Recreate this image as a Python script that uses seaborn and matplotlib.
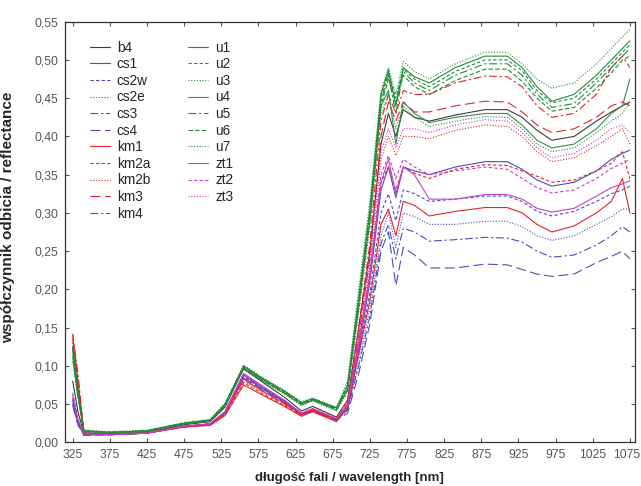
import matplotlib
matplotlib.use("Agg")
import matplotlib.pyplot as plt
import matplotlib.transforms as mtrans
from matplotlib.ticker import FuncFormatter
import seaborn as sns

wavelength = [325, 332, 340, 375, 425, 475, 510, 530, 555, 580, 610, 633, 648, 680,
              695, 710, 725, 740, 750, 760, 770, 785, 805, 840, 880, 910, 930, 950,
              970, 1000, 1030, 1050, 1065, 1075]

b4 = [0.080, 0.040, 0.012, 0.011, 0.013, 0.023, 0.027, 0.046, 0.096, 0.079, 0.059, 0.041, 0.047, 0.033,
      0.055, 0.150, 0.250, 0.390, 0.430, 0.400, 0.435, 0.425, 0.420, 0.428, 0.435, 0.435, 0.425, 0.408,
      0.395, 0.400, 0.420, 0.432, 0.440, 0.445]
cs1 = [0.055, 0.026, 0.010, 0.010, 0.012, 0.021, 0.024, 0.040, 0.088, 0.072, 0.054, 0.038, 0.043, 0.030,
       0.045, 0.120, 0.210, 0.330, 0.360, 0.320, 0.360, 0.355, 0.350, 0.360, 0.367, 0.367, 0.357, 0.343,
       0.335, 0.340, 0.355, 0.370, 0.378, 0.382]
cs2w = [0.050, 0.024, 0.010, 0.010, 0.012, 0.021, 0.024, 0.039, 0.086, 0.070, 0.053, 0.037, 0.042, 0.030,
        0.045, 0.115, 0.195, 0.300, 0.325, 0.290, 0.330, 0.325, 0.315, 0.318, 0.322, 0.322, 0.315, 0.302,
        0.296, 0.302, 0.315, 0.325, 0.330, 0.335]
cs2e = [0.052, 0.025, 0.010, 0.010, 0.012, 0.021, 0.024, 0.039, 0.085, 0.070, 0.052, 0.036, 0.041, 0.029,
        0.042, 0.105, 0.175, 0.270, 0.300, 0.255, 0.300, 0.295, 0.285, 0.285, 0.289, 0.289, 0.282, 0.270,
        0.264, 0.270, 0.285, 0.295, 0.305, 0.305]
cs3 = [0.058, 0.027, 0.010, 0.010, 0.012, 0.021, 0.024, 0.040, 0.087, 0.071, 0.053, 0.037, 0.042, 0.030,
       0.042, 0.100, 0.165, 0.260, 0.285, 0.240, 0.280, 0.275, 0.263, 0.265, 0.268, 0.267, 0.262, 0.250,
       0.242, 0.245, 0.258, 0.270, 0.282, 0.275]
cs4 = [0.048, 0.023, 0.009, 0.010, 0.012, 0.020, 0.023, 0.038, 0.084, 0.069, 0.052, 0.036, 0.041, 0.029,
       0.038, 0.090, 0.155, 0.250, 0.275, 0.205, 0.255, 0.245, 0.228, 0.228, 0.233, 0.232, 0.226, 0.220,
       0.217, 0.220, 0.235, 0.243, 0.250, 0.240]
km1 = [0.135, 0.080, 0.012, 0.010, 0.012, 0.020, 0.022, 0.035, 0.075, 0.062, 0.047, 0.034, 0.040, 0.027,
       0.045, 0.115, 0.185, 0.285, 0.305, 0.270, 0.315, 0.310, 0.296, 0.302, 0.307, 0.307, 0.300, 0.285,
       0.275, 0.283, 0.300, 0.315, 0.345, 0.300]
km2a = [0.140, 0.085, 0.012, 0.010, 0.012, 0.020, 0.023, 0.036, 0.078, 0.064, 0.048, 0.035, 0.041, 0.028,
        0.050, 0.130, 0.220, 0.340, 0.360, 0.330, 0.360, 0.352, 0.345, 0.357, 0.363, 0.362, 0.355, 0.348,
        0.340, 0.343, 0.355, 0.365, 0.380, 0.345]
km2b = [0.130, 0.075, 0.012, 0.010, 0.012, 0.021, 0.023, 0.037, 0.080, 0.066, 0.050, 0.036, 0.042, 0.028,
        0.050, 0.130, 0.230, 0.370, 0.400, 0.375, 0.400, 0.400, 0.397, 0.408, 0.415, 0.413, 0.400, 0.380,
        0.367, 0.372, 0.388, 0.400, 0.410, 0.390]
km3 = [0.125, 0.070, 0.012, 0.010, 0.012, 0.021, 0.023, 0.038, 0.082, 0.067, 0.050, 0.036, 0.042, 0.029,
       0.050, 0.140, 0.240, 0.400, 0.445, 0.420, 0.445, 0.432, 0.432, 0.440, 0.446, 0.445, 0.432, 0.415,
       0.405, 0.410, 0.425, 0.440, 0.445, 0.440]
km4 = [0.142, 0.090, 0.013, 0.011, 0.013, 0.021, 0.024, 0.038, 0.083, 0.068, 0.051, 0.037, 0.043, 0.029,
       0.055, 0.150, 0.260, 0.420, 0.455, 0.430, 0.460, 0.455, 0.455, 0.470, 0.479, 0.478, 0.465, 0.440,
       0.425, 0.430, 0.455, 0.490, 0.505, 0.490]
u1 = [0.125, 0.068, 0.015, 0.013, 0.015, 0.025, 0.029, 0.050, 0.100, 0.084, 0.067, 0.052, 0.057, 0.045,
      0.075, 0.190, 0.305, 0.455, 0.487, 0.440, 0.490, 0.478, 0.470, 0.490, 0.505, 0.505, 0.490, 0.465,
      0.446, 0.455, 0.480, 0.500, 0.515, 0.525]
u2 = [0.120, 0.065, 0.015, 0.013, 0.015, 0.025, 0.029, 0.050, 0.099, 0.083, 0.066, 0.051, 0.056, 0.044,
      0.070, 0.180, 0.295, 0.450, 0.483, 0.450, 0.488, 0.475, 0.465, 0.485, 0.500, 0.500, 0.486, 0.460,
      0.444, 0.450, 0.475, 0.495, 0.510, 0.520]
u3 = [0.130, 0.072, 0.016, 0.014, 0.016, 0.026, 0.030, 0.051, 0.101, 0.085, 0.068, 0.053, 0.058, 0.046,
      0.080, 0.200, 0.315, 0.460, 0.490, 0.455, 0.498, 0.485, 0.475, 0.495, 0.510, 0.510, 0.495, 0.475,
      0.463, 0.470, 0.495, 0.515, 0.530, 0.540]
u4 = [0.110, 0.060, 0.014, 0.012, 0.014, 0.024, 0.028, 0.048, 0.097, 0.081, 0.064, 0.049, 0.055, 0.042,
      0.070, 0.180, 0.290, 0.440, 0.460, 0.390, 0.445, 0.430, 0.418, 0.425, 0.430, 0.430, 0.415, 0.395,
      0.385, 0.390, 0.410, 0.430, 0.440, 0.475]
u5 = [0.125, 0.066, 0.015, 0.013, 0.015, 0.025, 0.029, 0.049, 0.099, 0.083, 0.066, 0.051, 0.057, 0.044,
      0.072, 0.185, 0.300, 0.445, 0.480, 0.430, 0.485, 0.470, 0.460, 0.480, 0.495, 0.495, 0.480, 0.455,
      0.438, 0.443, 0.470, 0.490, 0.505, 0.515]
u6 = [0.115, 0.062, 0.015, 0.013, 0.015, 0.025, 0.029, 0.049, 0.098, 0.082, 0.065, 0.050, 0.056, 0.043,
      0.068, 0.175, 0.290, 0.440, 0.475, 0.445, 0.480, 0.465, 0.455, 0.473, 0.488, 0.488, 0.472, 0.450,
      0.433, 0.438, 0.463, 0.483, 0.500, 0.505]
u7 = [0.105, 0.058, 0.014, 0.012, 0.014, 0.024, 0.028, 0.048, 0.096, 0.080, 0.063, 0.048, 0.054, 0.041,
      0.065, 0.170, 0.280, 0.430, 0.455, 0.410, 0.440, 0.425, 0.413, 0.420, 0.426, 0.425, 0.410, 0.390,
      0.380, 0.385, 0.405, 0.420, 0.430, 0.445]
zt1 = [0.060, 0.029, 0.011, 0.010, 0.012, 0.021, 0.024, 0.040, 0.090, 0.074, 0.055, 0.038, 0.044, 0.031,
       0.048, 0.125, 0.215, 0.340, 0.370, 0.325, 0.360, 0.350, 0.318, 0.318, 0.324, 0.324, 0.318, 0.306,
       0.301, 0.306, 0.322, 0.333, 0.338, 0.342]
zt2 = [0.065, 0.031, 0.011, 0.010, 0.012, 0.021, 0.024, 0.040, 0.089, 0.073, 0.055, 0.038, 0.044, 0.031,
       0.050, 0.130, 0.220, 0.350, 0.375, 0.345, 0.370, 0.360, 0.350, 0.355, 0.360, 0.357, 0.345, 0.333,
       0.326, 0.330, 0.345, 0.358, 0.365, 0.370]
zt3 = [0.062, 0.030, 0.011, 0.010, 0.012, 0.021, 0.024, 0.040, 0.089, 0.073, 0.054, 0.038, 0.044, 0.031,
       0.050, 0.140, 0.240, 0.380, 0.410, 0.385, 0.410, 0.410, 0.405, 0.415, 0.422, 0.420, 0.405, 0.385,
       0.372, 0.378, 0.395, 0.410, 0.415, 0.405]

series = {'b4': b4, 'cs1': cs1, 'cs2w': cs2w, 'cs2e': cs2e, 'cs3': cs3, 'cs4': cs4,
          'km1': km1, 'km2a': km2a, 'km2b': km2b, 'km3': km3, 'km4': km4,
          'u1': u1, 'u2': u2, 'u3': u3, 'u4': u4, 'u5': u5, 'u6': u6, 'u7': u7,
          'zt1': zt1, 'zt2': zt2, 'zt3': zt3}

# line colours and dash patterns per sample
blue, red, green, mag = '#4b4bc4', '#e3242b', '#228b38', '#c83cc8'
solid, dash, dot = '-', (0, (3, 2)), (0, (1, 1.5))
dashdot, longdash = (0, (7, 2.5, 2, 2.5)), (0, (9, 4))
line_style = {
    'b4': ('#3c3c3c', solid), 'cs1': (blue, solid), 'cs2w': (blue, dash),
    'cs2e': (blue, dot), 'cs3': (blue, dashdot), 'cs4': (blue, longdash),
    'km1': (red, solid), 'km2a': (red, dash), 'km2b': (red, dot),
    'km3': (red, longdash), 'km4': (red, dashdot),
    'u1': (green, solid), 'u2': (green, dash), 'u3': (green, dot),
    'u4': ('#3f8a4f', solid), 'u5': (green, dashdot), 'u6': (green, (0, (4, 2))),
    'u7': (green, dot),
    'zt1': (mag, solid), 'zt2': (mag, dash), 'zt3': (mag, dot),
}

sns.set_style("ticks")
plt.rcParams['font.family'] = ['Liberation Sans', 'DejaVu Sans']

fig = plt.figure(figsize=(6.41, 4.86), dpi=100)
ax = fig.add_axes([0.1014, 0.0899, 0.8885, 0.8654])

for name, vals in series.items():
    col, ls = line_style[name]
    sns.lineplot(x=wavelength, y=vals, ax=ax, color=col, linestyle=ls,
                 linewidth=0.8, label=name)

ax.set_xlim(314.6, 1081.3)
ax.set_ylim(0, 0.55)
ax.set_xticks(range(325, 1076, 50))
ax.set_yticks([i * 0.05 for i in range(12)])
ax.yaxis.set_major_formatter(FuncFormatter(lambda v, p: f"{v:.2f}".replace('.', ',')))
ax.tick_params(direction='in', length=3, top=True, right=True, labelsize=8.7,
               labelcolor='#555555', color='#555555', pad=5)
for sp in ax.spines.values():
    sp.set_color('#333333')
    sp.set_linewidth(0.9)

# last x label sits right at the figure edge, nudge it in a little
last = ax.get_xticklabels()[-1]
last.set_transform(last.get_transform() + mtrans.ScaledTranslation(-3 / 100, 0, fig.dpi_scale_trans))

ax.set_xlabel('długość fali / wavelength [nm]', fontsize=9.5, fontweight='bold', labelpad=8)
ax.set_ylabel('współczynnik odbicia / reflectance', fontsize=11, fontweight='bold')
ax.yaxis.set_label_coords(-0.087, 0.535)

ax.legend(ncol=2, loc='upper left', bbox_to_anchor=(0.044, 0.955), frameon=False,
          fontsize=9.8, handlelength=1.47, handletextpad=0.5, labelspacing=0.19,
          columnspacing=2.8, borderaxespad=0, borderpad=0)

fig.savefig('out.png', dpi=100)
